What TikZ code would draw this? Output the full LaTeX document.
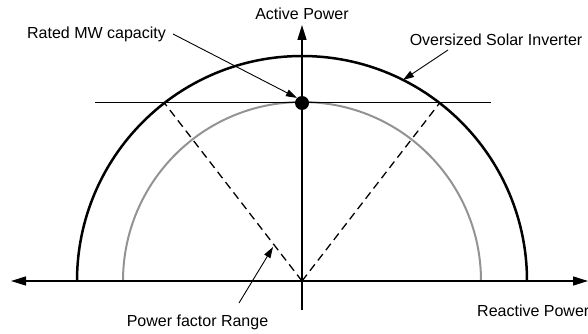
\documentclass[tikz,border=0pt]{standalone}
\usepackage{fontspec}
\setmainfont{Liberation Sans}
\usetikzlibrary{arrows.meta}
\begin{document}
\begin{tikzpicture}[x=1pt,y=-1pt,
  axis/.style={line width=1.5pt,-{Triangle[length=15pt,width=9pt]}},
  label/.style={font=\fontsize{16pt}{18pt}\selectfont,inner sep=0pt,anchor=base},
  pointer/.style={line width=0.9pt,-{Triangle[length=11pt,width=7pt]}},
  outer/.style={line width=2.5pt,black},
  inner/.style={line width=2pt,gray!85},
  pfline/.style={line width=1.3pt,dash pattern=on 8pt off 5pt}]
\useasboundingbox (0,0) rectangle (588,334);
\coordinate (O) at (302,281);
% circles
\draw[inner] (123,281) arc[start angle=180,end angle=360,radius=179];
\draw[outer] (77,281) arc[start angle=180,end angle=360,radius=225];
% horizontal rated line
\coordinate (HL) at (95,103);
\coordinate (HR) at (491,103);
\draw[line width=1pt] (HL) -- (HR);
% power factor dashed lines
\coordinate (PL) at (164.4,103);
\coordinate (PR) at (439.6,103);
\draw[pfline] (O) -- (PL);
\draw[pfline] (O) -- (PR);
% axes
\coordinate (XL) at (11,281);
\coordinate (XR) at (588,281);
\coordinate (YB) at (302,310);
\coordinate (YT) at (302,25);
\draw[axis] (O) -- (XL);
\draw[axis] (O) -- (XR);
\draw[line width=1.5pt] (O) -- (YB);
\draw[axis] (O) -- (YT);
% rated dot
\node[circle,fill=black,minimum size=14pt,inner sep=0pt] (dot) at (302,103) {};
% labels
\node[label] (ap) at (302,20) {Active Power};
\node[label] (rated) at (96.5,39) {Rated MW capacity};
\node[label] (osi) at (496,45.5) {Oversized Solar Inverter};
\node[label] (pf) at (197.5,326) {Power factor Range};
\node[label,anchor=base west] (rp) at (477,316) {Reactive Power};
% pointers
\coordinate (rs) at (173,34);
\coordinate (osis) at (448,50);
\coordinate (osit) at (403,80);
\coordinate (pfs) at (239,303);
\coordinate (pft) at (273,247);
\draw[pointer] (rs) -- (dot.north west);
\draw[pointer] (osis) -- (osit);
\draw[pointer] (pfs) -- (pft);
\end{tikzpicture}
\end{document}
